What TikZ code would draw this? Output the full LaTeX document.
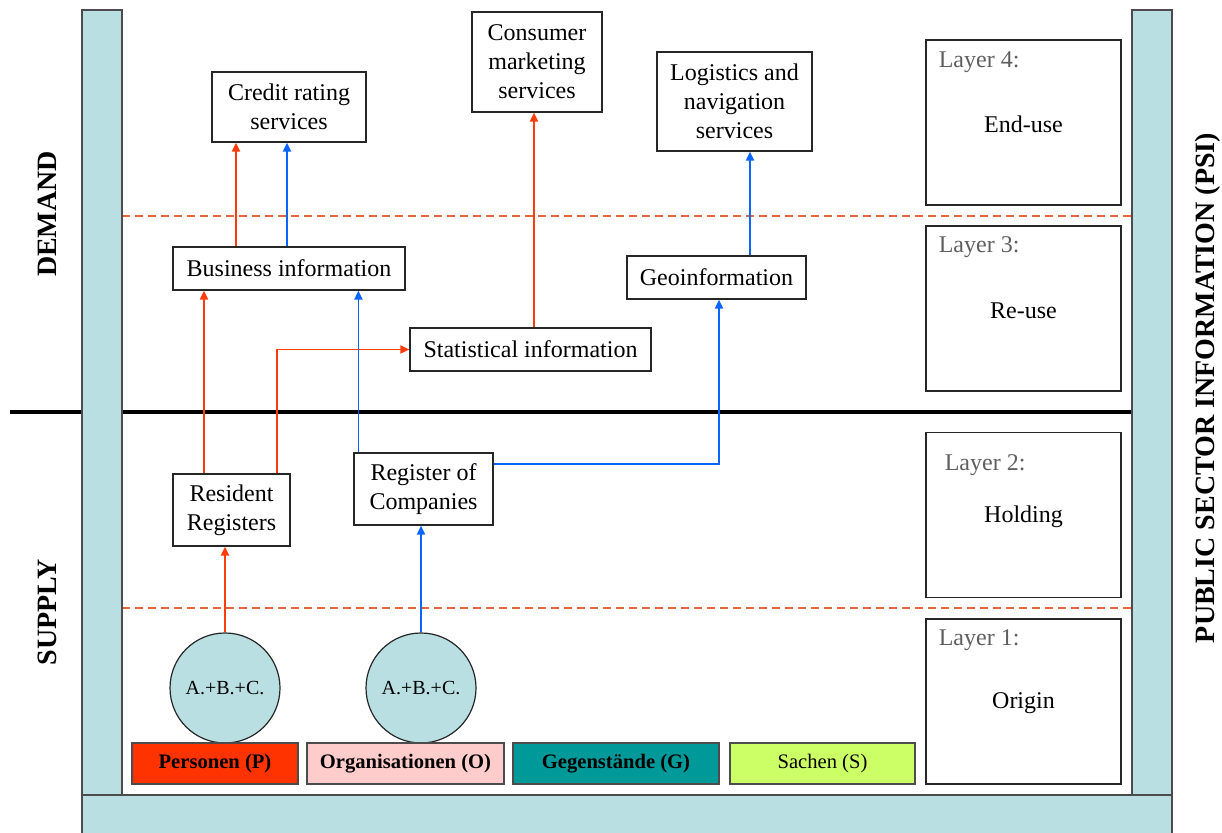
\documentclass[tikz,border=0pt]{standalone}
\usepackage{fontspec}
\setmainfont{Liberation Serif}
\usetikzlibrary{arrows.meta}
\usepackage{xcolor}
\definecolor{pillarblue}{RGB}{185,223,226}
\definecolor{flowred}{RGB}{255,60,10}
\definecolor{flowblue}{RGB}{10,100,255}
\definecolor{dashred}{RGB}{228,100,60}
\definecolor{layergray}{RGB}{95,95,95}
\definecolor{persred}{RGB}{255,51,0}
\definecolor{orgpink}{RGB}{255,204,204}
\definecolor{gegteal}{RGB}{0,153,153}
\definecolor{sachgreen}{RGB}{204,255,102}

\begin{document}
\begin{tikzpicture}[x=0.5pt,y=-0.5pt,
    every node/.style={font=\fontsize{12}{14.5}\selectfont},
    box/.style={shape=rectangle,
      draw=black!85,
      line width=0.6pt,
      fill=white,
      align=center,
      inner sep=1pt},
    layer/.style={shape=rectangle,
      draw=black!85,
      line width=0.6pt,
      minimum width=97.5pt,
      minimum height=82.5pt},
    layertag/.style={anchor=west,text=layergray,inner sep=0pt},
    pillar/.style={draw=black!70,line width=0.6pt,fill=pillarblue},
    source/.style={shape=circle,
      draw=black!85,
      line width=0.6pt,
      fill=pillarblue,
      minimum size=55pt,
      inner sep=0pt,
      font=\fontsize{10}{12}\selectfont},
    legend/.style={shape=rectangle,
      draw=black!70,
      line width=0.6pt,
      minimum height=20.5pt,
      font=\fontsize{10.3}{12}\selectfont},
    redflow/.style={draw=flowred,line width=0.9pt,-{Triangle[length=4.5pt,width=4pt]}},
    blueflow/.style={draw=flowblue,line width=0.9pt,-{Triangle[length=4.5pt,width=4pt]}},
    layerline/.style={draw=dashred,line width=0.7pt,dash pattern=on 4pt off 2.5pt},
    sidelabel/.style={rotate=90,font=\fontsize{14}{16}\selectfont\bfseries}]
  \useasboundingbox (0,0) rectangle (1222,833);

  % supply / demand border and layer borders
  \draw[line width=1.8pt] (10,412) -- (1132,412);
  \draw[layerline] (122,216) -- (1132,216);
  \draw[layerline] (122,608) -- (1132,608);

  % frame
  \draw[pillar] (82,10) rectangle (122,795);
  \draw[pillar] (1132,10) rectangle (1172,795);
  \draw[pillar] (82,795) rectangle (1172,840);

  \node[sidelabel] (demand) at (47,214) {DEMAND};
  \node[sidelabel] (supply) at (47,612) {SUPPLY};
  \node[sidelabel] (psi) at (1208,388) {PUBLIC SECTOR INFORMATION (PSI)};

  % layers
  \node[layer] (L4) at (1023.5,122.5) {};
  \node[layer] (L3) at (1023.5,308.5) {};
  \node[layer] (L2) at (1023.5,515) {};
  \node[layer] (L1) at (1023.5,701.5) {};
  \node[layertag] (tag4) at ([xshift=6.5pt,yshift=-11.5pt]L4.north west) {Layer 4:};
  \node[layertag] (tag3) at ([xshift=6.5pt,yshift=-11pt]L3.north west) {Layer 3:};
  \node[layertag] (tag2) at ([xshift=9.5pt,yshift=-16.5pt]L2.north west) {Layer 2:};
  \node[layertag] (tag1) at ([xshift=6.5pt,yshift=-11pt]L1.north west) {Layer 1:};
  \node (enduse) at ([yshift=-1pt]L4.center) {End-use};
  \node (reuse) at ([yshift=-1pt]L3.center) {Re-use};
  \node (holding) at ([yshift=-1pt]L2.center) {Holding};
  \node (origin) at ([yshift=-1pt]L1.center) {Origin};

  % end-use
  \node[box,minimum width=77pt,minimum height=35pt] (credit) at (289,107) {Credit rating\\services};
  \node[box,minimum width=65pt,minimum height=50pt] (consumer) at (537,62) {Consumer\\marketing\\services};
  \node[box,minimum width=77.5pt,minimum height=49.5pt] (logistics) at (734.5,101.5) {Logistics and\\navigation\\services};

  % re-use
  \node[box,minimum width=116pt,minimum height=21.5pt] (bizinfo) at (289,268.5) {Business information};
  \node[box,minimum width=89.5pt,minimum height=21.5pt] (geo) at (716.5,277.5) {Geoinformation};
  \node[box,minimum width=120.5pt,minimum height=21.5pt] (statinfo) at (530.5,349.5) {Statistical information};

  % holding
  \node[box,minimum width=58.5pt,minimum height=36pt] (resreg) at (231.5,510) {Resident\\Registers};
  \node[box,minimum width=69.5pt,minimum height=36pt] (regcomp) at (423.5,489) {Register of\\Companies};

  % origin
  \node[source] (srcP) at (225,688) {A.+B.+C.};
  \node[source] (srcO) at (421,688) {A.+B.+C.};

  \node[legend,fill=persred,minimum width=83pt] (pers) at (215,763.5) {\bfseries Personen (P)};
  \node[legend,fill=orgpink,minimum width=98.5pt] (org) at (405.5,763.5) {\bfseries Organisationen (O)};
  \node[legend,fill=gegteal,minimum width=103pt] (geg) at (616,763.5) {\bfseries Gegenstände (G)};
  \node[legend,fill=sachgreen,minimum width=92.5pt] (sach) at (822.5,763.5) {Sachen (S)};

  % flows
  \draw[redflow] (srcP.north) -- (srcP.north |- resreg.south);
  \draw[blueflow] (srcO.north) -- (srcO.north |- regcomp.south);
  \draw[redflow] ([xshift=-13.75pt]resreg.north) -- ([xshift=-13.75pt]resreg.north |- bizinfo.south);
  \draw[redflow] ([xshift=22.75pt]resreg.north) |- (statinfo.west);
  \draw[blueflow] ([xshift=2.5pt]regcomp.north west) -- ([xshift=2.5pt]regcomp.north west |- bizinfo.south);
  \draw[blueflow] ([yshift=12.5pt]regcomp.east) -| ([xshift=1.25pt]geo.south);
  \draw[redflow] ([xshift=-26.5pt]bizinfo.north) -- ([xshift=-26.5pt]bizinfo.north |- credit.south);
  \draw[blueflow] ([xshift=-1pt]bizinfo.north) -- ([xshift=-1pt]bizinfo.north |- credit.south);
  \draw[redflow] ([xshift=1.75pt]statinfo.north) -- ([xshift=1.75pt]statinfo.north |- consumer.south);
  \draw[blueflow] ([xshift=16.75pt]geo.north) -- ([xshift=16.75pt]geo.north |- logistics.south);

\end{tikzpicture}
\end{document}
